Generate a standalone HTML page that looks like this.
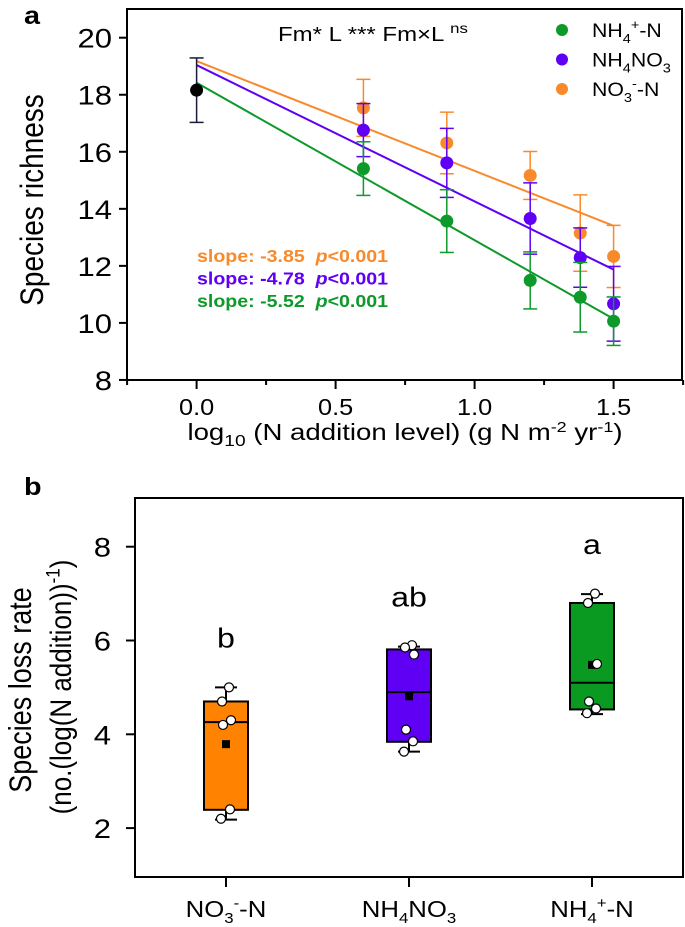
<!DOCTYPE html>
<html><head><meta charset="utf-8"><style>
html,body{margin:0;padding:0;background:#fff;}
svg{display:block;font-family:"Liberation Sans",Arial,sans-serif;}
</style></head><body>
<svg id="chart" width="685" height="927" viewBox="0 0 685 927" xmlns="http://www.w3.org/2000/svg">
<text transform="translate(24,24) scale(1.15,1)" font-size="25" font-weight="bold">a</text>
<text transform="translate(24,495) scale(1.15,1)" font-size="25" font-weight="bold">b</text>
<rect x="127" y="9" width="555" height="371" fill="none" stroke="#000" stroke-width="2"/>
<rect x="135" y="498" width="548" height="379" fill="none" stroke="#000" stroke-width="2"/>
<text transform="translate(43,200) rotate(-90) scale(1,1.15)" text-anchor="middle" font-size="28">Species richness</text>
<text transform="translate(405,440) scale(1.2,1)" text-anchor="middle" font-size="23">log<tspan font-size="16" dy="6">10</tspan><tspan dy="-6"> (N addition level) (g N m</tspan><tspan font-size="15" dy="-8">-2</tspan><tspan dy="8"> yr</tspan><tspan font-size="15" dy="-8">-1</tspan><tspan dy="8">)</tspan></text>
<text transform="translate(31,690) rotate(-90) scale(1,1.15)" text-anchor="middle" font-size="27">Species loss rate</text>
<text transform="translate(71,687) rotate(-90) scale(1,1.15)" text-anchor="middle" font-size="26">(no.(log(N addition))<tspan font-size="17" dy="-10">-1</tspan><tspan dy="10">)</tspan></text>
<text transform="translate(278,41) scale(1.2,1)" font-size="20">Fm* L ***  Fm×L <tspan font-size="14" dy="-8">ns</tspan></text>
<g id="legend"></g>
<g id="pa"></g>
<g id="pb"></g>
</svg>
<script>
// Panel a data
const levels = [0.6, 0.9, 1.2, 1.38, 1.5];
const controlMean = 18.16, controlSd = 1.13;
const nh4Mean = [15.41, 13.57, 11.49, 10.9, 10.06];
const nh4Sd = [0.94, 1.1, 1.0, 1.22, 0.85];
const nh4no3Mean = [16.76, 15.61, 13.66, 12.29, 10.67];
const nh4no3Sd = [0.93, 1.21, 1.25, 1.04, 1.31];
const no3Mean = [17.54, 16.31, 15.17, 13.15, 12.33];
const no3Sd = [1.0, 1.08, 0.84, 1.34, 1.09];
const intercepts = [18.42, 19.04, 19.18];
const slopes = [-5.52, -4.78, -3.85];
const yTicksA = [8, 10, 12, 14, 16, 18, 20];
const xTicksA = [0.0, 0.5, 1.0, 1.5];
const xTickLabelsA = ["0.0", "0.5", "1.0", "1.5"];
// Panel b data
const categoriesB = ["NO3-N", "NH4NO3", "NH4+-N"];
const q1B = [2.39, 3.84, 4.53];
const q3B = [4.70, 5.81, 6.80];
const medianB = [4.26, 4.90, 5.10];
const whiskLoB = [2.18, 3.63, 4.43];
const whiskHiB = [5.0, 5.87, 6.99];
const meanB = [3.79, 4.81, 5.48];
const pointsB = [[5.0, 4.7, 4.3, 4.2, 2.4, 2.2], [5.9, 5.85, 5.7, 4.1, 3.85, 3.63], [7.0, 6.8, 5.5, 4.7, 4.55, 4.45]];
const lettersB = ["b", "ab", "a"];
const yTicksB = [2, 4, 6, 8];

const NS = "http://www.w3.org/2000/svg";
const GREEN = "#0d9a2a", PURPLE = "#5f00f5", ORANGE = "#f98a2c";
const seriesColors = [GREEN, PURPLE, ORANGE];
function mk(parent, tag, attrs) { const e = document.createElementNS(NS, tag); for (const k in attrs) e.setAttribute(k, attrs[k]); parent.appendChild(e); return e; }
function txt(parent, x, y, size, sx, anchor, extra) {
  const a = {transform: 'translate(' + x + ',' + y + ') scale(' + sx + ',1)', 'font-size': size, 'text-anchor': anchor};
  for (const k in (extra || {})) a[k] = extra[k];
  return mk(parent, 'text', a);
}
const xa = v => 196.6 + v * 278;
const ya = v => 37.7 + (20 - v) * 28.52;
const xb = i => 226 + i * 183;
const yb = v => 546.7 + (8 - v) * 46.9;

const pa = document.getElementById('pa');
yTicksA.forEach(t => {
  const l = mk(pa, 'line', {x1: 119, x2: 127, y1: ya(t), y2: ya(t), stroke: '#000', 'stroke-width': 2});
  
  
  const tx = txt(pa, 112, ya(t) + 10, 27, 1.15, 'end');
  tx.textContent = t;
  
  
});
for (let v = -0.25; v <= 1.76; v += 0.25) {
  const major = Math.abs(v * 2 - Math.round(v * 2)) < 1e-6;
  const l = mk(pa, 'line', {x1: xa(v), x2: xa(v), y1: 380, y2: 380 + (major ? 9 : 5), stroke: '#000', 'stroke-width': 2});
  
  
}
xTicksA.forEach((t, i) => {
  const tx = txt(pa, xa(t), 415, 23, 1.1, 'middle');
  tx.textContent = xTickLabelsA[i];
  
  
});
intercepts.forEach((b, i) => {
  const l = mk(pa, 'line', {x1: xa(0), y1: ya(b), x2: xa(1.5), y2: ya(b + slopes[i] * 1.5), stroke: seriesColors[i], 'stroke-width': 2});
  
  
});
function errPoint(x, m, sd, col, dot, name) {
  const g = mk(pa, 'g', {});
  
  
  mk(g, 'line', {x1: xa(x), x2: xa(x), y1: ya(m + sd), y2: ya(m - sd), stroke: col, 'stroke-width': 1.5});
  mk(g, 'line', {x1: xa(x) - 7, x2: xa(x) + 7, y1: ya(m + sd), y2: ya(m + sd), stroke: col, 'stroke-width': 1.5});
  mk(g, 'line', {x1: xa(x) - 7, x2: xa(x) + 7, y1: ya(m - sd), y2: ya(m - sd), stroke: col, 'stroke-width': 1.5});
  mk(g, 'circle', {cx: xa(x), cy: ya(m), r: 6.5, fill: dot});
}
errPoint(0, controlMean, controlSd, '#1a1a3a', '#000', 'control-point');
levels.forEach((x, i) => errPoint(x, no3Mean[i], no3Sd[i], ORANGE, ORANGE, 'no3-point'));
levels.forEach((x, i) => errPoint(x, nh4no3Mean[i], nh4no3Sd[i], PURPLE, PURPLE, 'nh4no3-point'));
levels.forEach((x, i) => errPoint(x, nh4Mean[i], nh4Sd[i], GREEN, GREEN, 'nh4-point'));
const slopeOrder = [2, 1, 0];
slopeOrder.forEach((si, k) => {
  const t = txt(pa, 197, 262 + k * 22.5, 17.5, 1.12, 'start', {'font-weight': 'bold', fill: seriesColors[si]});
  t.innerHTML = 'slope: ' + slopes[si].toFixed(2) + '\u00a0\u00a0<tspan font-style="italic">p</tspan>&lt;0.001';
  
  
});
const leg = document.getElementById('legend');
const legLabels = ['NH<tspan font-size="13" dy="6">4</tspan><tspan font-size="13" dy="-14">+</tspan><tspan dy="8">-N</tspan>', 'NH<tspan font-size="13" dy="6">4</tspan><tspan dy="-6">NO</tspan><tspan font-size="13" dy="6">3</tspan>', 'NO<tspan font-size="13" dy="6">3</tspan><tspan font-size="13" dy="-14">-</tspan><tspan dy="8">-N</tspan>'];
[GREEN, PURPLE, ORANGE].forEach((c, i) => {
  const y = 30 + i * 29.5;
  const g = mk(leg, 'g', {});
  
  
  mk(g, 'circle', {cx: 562, cy: y, r: 6, fill: c});
  const t = txt(g, 592, y + 7, 19, 1.12, 'start');
  t.innerHTML = legLabels[i];
});

const pb = document.getElementById('pb');
yTicksB.forEach(t => {
  const l = mk(pb, 'line', {x1: 126, x2: 135, y1: yb(t), y2: yb(t), stroke: '#000', 'stroke-width': 2});
  
  
  const tx = txt(pb, 111, yb(t) + 10, 27, 1.15, 'end');
  tx.textContent = t;
  
  
});
const boxColors = ['#ff8200', '#5f00f5', '#0a9a22'];
const catLabels = ['NO<tspan font-size="15" dy="6">3</tspan><tspan font-size="15" dy="-15">-</tspan><tspan dy="9">-N</tspan>', 'NH<tspan font-size="15" dy="6">4</tspan><tspan dy="-6">NO</tspan><tspan font-size="15" dy="6">3</tspan>', 'NH<tspan font-size="15" dy="6">4</tspan><tspan font-size="15" dy="-15">+</tspan><tspan dy="9">-N</tspan>'];
categoriesB.forEach((c, i) => {
  const x = xb(i);
  const g = mk(pb, 'g', {});
  
  
  mk(g, 'line', {x1: x, x2: x, y1: yb(whiskHiB[i]), y2: yb(whiskLoB[i]), stroke: '#000', 'stroke-width': 2});
  mk(g, 'line', {x1: x - 11, x2: x + 11, y1: yb(whiskHiB[i]), y2: yb(whiskHiB[i]), stroke: '#000', 'stroke-width': 2});
  mk(g, 'line', {x1: x - 11, x2: x + 11, y1: yb(whiskLoB[i]), y2: yb(whiskLoB[i]), stroke: '#000', 'stroke-width': 2});
  mk(g, 'rect', {x: x - 22, y: yb(q3B[i]), width: 44, height: yb(q1B[i]) - yb(q3B[i]), fill: boxColors[i], stroke: '#000', 'stroke-width': 2});
  mk(g, 'line', {x1: x - 22, x2: x + 22, y1: yb(medianB[i]), y2: yb(medianB[i]), stroke: '#000', 'stroke-width': 2});
  mk(g, 'rect', {x: x - 4, y: yb(meanB[i]) - 4, width: 8, height: 8, fill: '#000'});
  pointsB[i].forEach((p, j) => {
    const off = (j % 2 ? -1 : 1) * (3 + (j % 3));
    mk(g, 'circle', {cx: x + off, cy: yb(p), r: 4.5, fill: '#fff', stroke: '#000', 'stroke-width': 1.2});
  });
  const lt = txt(pb, x, yb(Math.max(whiskHiB[i], 5.0)) - 40, 28, 1.15, 'middle');
  lt.textContent = lettersB[i];
  
  
  const tk = mk(pb, 'line', {x1: x, x2: x, y1: 877, y2: 887, stroke: '#000', 'stroke-width': 2});
  
  
  const tl = txt(pb, x, 917, 23, 1.12, 'middle');
  tl.innerHTML = catLabels[i];
  
  
});
</script>
</body></html>
